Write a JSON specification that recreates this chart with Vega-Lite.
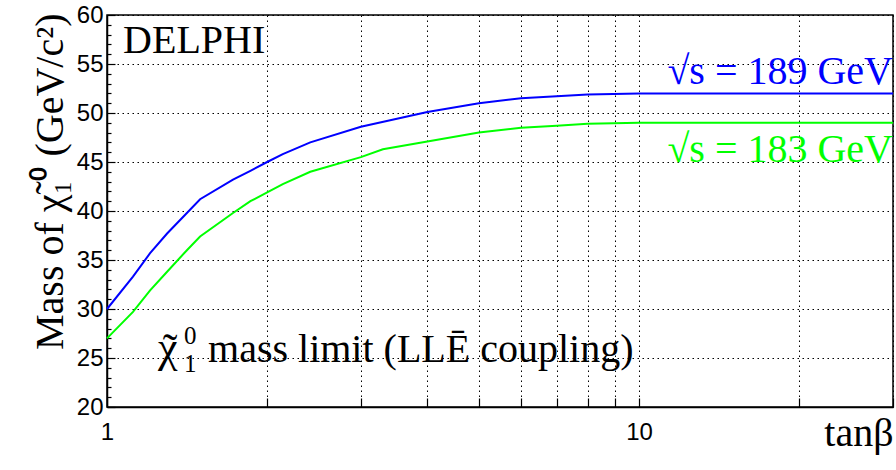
{
  "$schema": "https://vega.github.io/schema/vega-lite/v6.json",
  "width": 786,
  "height": 392,
  "autosize": {"type": "none"},
  "padding": {"left": 107, "top": 15, "right": 3, "bottom": 63},
  "background": "white",
  "config": {
    "view": {"stroke": "black", "strokeWidth": 1.5},
    "axis": {
      "domainColor": "black",
      "domainWidth": 1.5,
      "tickColor": "black",
      "tickWidth": 1.2,
      "gridColor": "black",
      "gridDash": [1.5, 3.5],
      "gridWidth": 1,
      "labelFont": "Liberation Sans",
      "labelFontSize": 24,
      "labelColor": "black",
      "titleFont": "Liberation Serif",
      "titleFontSize": 40,
      "titleFontWeight": "normal",
      "titleColor": "black"
    },
    "text": {"font": "Liberation Serif", "fontSize": 40, "baseline": "alphabetic", "color": "black"}
  },
  "datasets": {
    "curves": [
      {"tanb": 1.0, "mass": 30.0, "sqrt_s": "189"},
      {"tanb": 1.119, "mass": 33.3, "sqrt_s": "189"},
      {"tanb": 1.205, "mass": 35.7, "sqrt_s": "189"},
      {"tanb": 1.297, "mass": 37.7, "sqrt_s": "189"},
      {"tanb": 1.413, "mass": 39.8, "sqrt_s": "189"},
      {"tanb": 1.496, "mass": 41.2, "sqrt_s": "189"},
      {"tanb": 1.725, "mass": 43.2, "sqrt_s": "189"},
      {"tanb": 1.86, "mass": 44.1, "sqrt_s": "189"},
      {"tanb": 2.0, "mass": 45.0, "sqrt_s": "189"},
      {"tanb": 2.14, "mass": 45.8, "sqrt_s": "189"},
      {"tanb": 2.41, "mass": 47.0, "sqrt_s": "189"},
      {"tanb": 3.0, "mass": 48.6, "sqrt_s": "189"},
      {"tanb": 4.0, "mass": 50.1, "sqrt_s": "189"},
      {"tanb": 5.0, "mass": 51.0, "sqrt_s": "189"},
      {"tanb": 6.0, "mass": 51.5, "sqrt_s": "189"},
      {"tanb": 7.0, "mass": 51.7, "sqrt_s": "189"},
      {"tanb": 8.0, "mass": 51.9, "sqrt_s": "189"},
      {"tanb": 10.0, "mass": 52.0, "sqrt_s": "189"},
      {"tanb": 30.0, "mass": 52.0, "sqrt_s": "189"},
      {"tanb": 1.0, "mass": 27.0, "sqrt_s": "183"},
      {"tanb": 1.119, "mass": 29.7, "sqrt_s": "183"},
      {"tanb": 1.205, "mass": 31.9, "sqrt_s": "183"},
      {"tanb": 1.297, "mass": 33.8, "sqrt_s": "183"},
      {"tanb": 1.413, "mass": 36.0, "sqrt_s": "183"},
      {"tanb": 1.496, "mass": 37.4, "sqrt_s": "183"},
      {"tanb": 1.725, "mass": 39.8, "sqrt_s": "183"},
      {"tanb": 1.86, "mass": 41.0, "sqrt_s": "183"},
      {"tanb": 2.0, "mass": 41.9, "sqrt_s": "183"},
      {"tanb": 2.14, "mass": 42.75, "sqrt_s": "183"},
      {"tanb": 2.41, "mass": 44.0, "sqrt_s": "183"},
      {"tanb": 3.0, "mass": 45.5, "sqrt_s": "183"},
      {"tanb": 3.3, "mass": 46.3, "sqrt_s": "183"},
      {"tanb": 4.0, "mass": 47.1, "sqrt_s": "183"},
      {"tanb": 5.0, "mass": 48.0, "sqrt_s": "183"},
      {"tanb": 6.0, "mass": 48.5, "sqrt_s": "183"},
      {"tanb": 7.0, "mass": 48.7, "sqrt_s": "183"},
      {"tanb": 8.0, "mass": 48.9, "sqrt_s": "183"},
      {"tanb": 10.0, "mass": 49.0, "sqrt_s": "183"},
      {"tanb": 30.0, "mass": 49.0, "sqrt_s": "183"}
    ]
  },
  "resolve": {"axis": {"y": "independent"}},
  "layer": [
    {
      "data": {"name": "curves"},
      "mark": {"type": "line", "strokeWidth": 2, "interpolate": "linear"},
      "encoding": {
        "x": {
          "field": "tanb",
          "type": "quantitative",
          "scale": {"type": "log", "domain": [1, 30], "nice": false},
          "axis": {
            "title": "tanβ",
            "titleX": 786,
            "titleY": 38,
            "titleAlign": "right",
            "titleBaseline": "alphabetic",
            "values": [1, 2, 3, 4, 5, 6, 7, 8, 9, 10, 20, 30],
            "labelExpr": "datum.value === 1 || datum.value === 10 ? format(datum.value, 'd') : ''",
            "labelFlush": false,
            "labelOverlap": false,
            "labelPadding": 22,
            "grid": true,
            "tickSize": -9
          }
        },
        "y": {
          "field": "mass",
          "type": "quantitative",
          "scale": {"domain": [20, 60], "nice": false, "zero": false},
          "axis": {
            "orient": "left",
            "title": "Mass of χ̃₁⁰  (GeV/c²)",
            "titleX": -45,
            "titleY": -2,
            "titleAngle": -90,
            "titleAlign": "right",
            "titleBaseline": "alphabetic",
            "values": [20, 25, 30, 35, 40, 45, 50, 55, 60],
            "labelFlush": false,
            "labelOverlap": false,
            "labelPadding": 12,
            "grid": true,
            "tickSize": -8
          }
        },
        "color": {
          "field": "sqrt_s",
          "type": "nominal",
          "scale": {"domain": ["189", "183"], "range": ["#0000ff", "#00ff00"]},
          "legend": null
        }
      }
    },
    {
      "data": {"name": "curves"},
      "mark": {"type": "line", "opacity": 0},
      "encoding": {
        "x": {"field": "tanb", "type": "quantitative"},
        "y": {
          "field": "mass",
          "type": "quantitative",
          "axis": {"orient": "left", "values": [21, 22, 23, 24, 26, 27, 28, 29, 31, 32, 33, 34, 36, 37, 38, 39, 41, 42, 43, 44, 46, 47, 48, 49, 51, 52, 53, 54, 56, 57, 58, 59], "labels": false, "domain": false, "grid": false, "title": null, "tickSize": -4, "offset": 0}
        },
        "detail": {"field": "sqrt_s"}
      }
    },
    {
      "data": {"values": [{"label": "DELPHI"}]},
      "mark": {"type": "text", "align": "left"},
      "encoding": {
        "x": {"datum": 1.072},
        "y": {"datum": 56.1, "axis": null},
        "text": {"field": "label"}
      }
    },
    {
      "data": {"values": [{"label": "√s = 189 GeV"}]},
      "mark": {"type": "text", "align": "right", "color": "#0000ff"},
      "encoding": {
        "x": {"datum": 30},
        "y": {"datum": 53.0, "axis": null},
        "text": {"field": "label"}
      }
    },
    {
      "data": {"values": [{"label": "√s = 183 GeV"}]},
      "mark": {"type": "text", "align": "right", "color": "#00ff00"},
      "encoding": {
        "x": {"datum": 30},
        "y": {"datum": 45.0, "axis": null},
        "text": {"field": "label"}
      }
    },
    {
      "data": {"values": [{"label": "χ"}]},
      "mark": {"type": "text", "align": "left", "fontSize": 44},
      "encoding": {
        "x": {"datum": 1.247},
        "y": {"datum": 24.6, "axis": null},
        "text": {"field": "label"}
      }
    },
    {
      "data": {"values": [{"label": "˜"}]},
      "mark": {"type": "text", "align": "center", "fontSize": 44, "dx": 12, "dy": 2},
      "encoding": {
        "x": {"datum": 1.247},
        "y": {"datum": 24.6, "axis": null},
        "text": {"field": "label"}
      }
    },
    {
      "data": {"values": [{"label": "0"}]},
      "mark": {"type": "text", "align": "left", "fontSize": 25, "dx": 26, "dy": -18},
      "encoding": {
        "x": {"datum": 1.247},
        "y": {"datum": 24.6, "axis": null},
        "text": {"field": "label"}
      }
    },
    {
      "data": {"values": [{"label": "1"}]},
      "mark": {"type": "text", "align": "left", "fontSize": 25, "dx": 26, "dy": 10},
      "encoding": {
        "x": {"datum": 1.247},
        "y": {"datum": 24.6, "axis": null},
        "text": {"field": "label"}
      }
    },
    {
      "data": {"values": [{"label": "mass limit (LLĒ coupling)"}]},
      "mark": {"type": "text", "align": "left", "dx": 50},
      "encoding": {
        "x": {"datum": 1.247},
        "y": {"datum": 24.6, "axis": null},
        "text": {"field": "label"}
      }
    }
  ]
}
